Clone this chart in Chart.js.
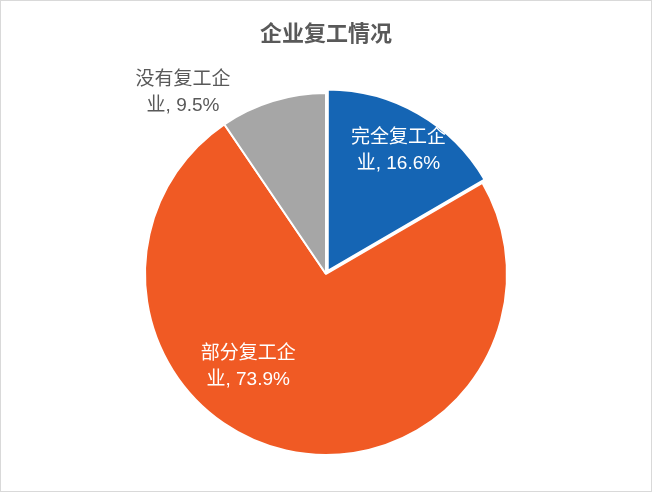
<!DOCTYPE html>
<html><head><meta charset="utf-8">
<script src="https://cdn.jsdelivr.net/npm/chart.js@4"></script>
<style>html,body{margin:0;padding:0;background:#fff}
#wrap{position:absolute;left:0;top:0;width:650px;height:490px;border:1px solid #d9d9d9}</style>
</head><body><div id="wrap"><canvas id="c" width="650" height="490"></canvas></div>
<script>
const titleText = "企业复工情况";
const categories = ["完全复工企业", "部分复工企业", "没有复工企业"];
const values = [16.6, 73.9, 9.5];
const colors = ["#1565b4", "#f05a24", "#a6a6a6"];
const labelLines = [["完全复工企","业, 16.6%"],["部分复工企","业, 73.9%"],["没有复工企","业, 9.5%"]];
const labelAnchors = [[0.40, -0.68], [-0.43, 0.51], [-0.79, -1.0]];

const labelPlugin = {
  id: 'lbl',
  afterDraw(chart) {
    const ctx = chart.ctx;
    ctx.save();
    ctx.font = 'bold 22px "Noto Sans CJK SC"';
    ctx.fillStyle = '#595959';
    ctx.textAlign = 'center'; ctx.textBaseline = 'middle';
    ctx.fillText(titleText, chart.width/2, 32);
    const meta = chart.getDatasetMeta(0);
    const base = meta.data[1];
    meta.data.forEach((arc, i) => {
      const R = base.outerRadius;
      const x = base.x + labelAnchors[i][0]*R, y = base.y + labelAnchors[i][1]*R;
      ctx.font = '19px "Liberation Sans", "Noto Sans CJK SC"';
      ctx.fillStyle = i === 2 ? '#595959' : '#ffffff';
      labelLines[i].forEach((t, k) => ctx.fillText(t, x, y + (k - 0.5)*26));
    });
    ctx.restore();
  }
};

new Chart(document.getElementById('c'), {
  type: 'pie',
  data: { labels: categories, datasets: [{ data: values, backgroundColor: colors,
    borderColor: '#ffffff', borderWidth: 2,
    offset: (c) => c.dataIndex === 0 ? 14 : 0 }] },
  options: {
    responsive: false, animation: false,
    layout: { padding: { top: 84, bottom: 28 } },
    plugins: { legend: { display: false }, title: { display: false }, tooltip: { enabled: false } }
  },
  plugins: [labelPlugin]
});
</script></body></html>
